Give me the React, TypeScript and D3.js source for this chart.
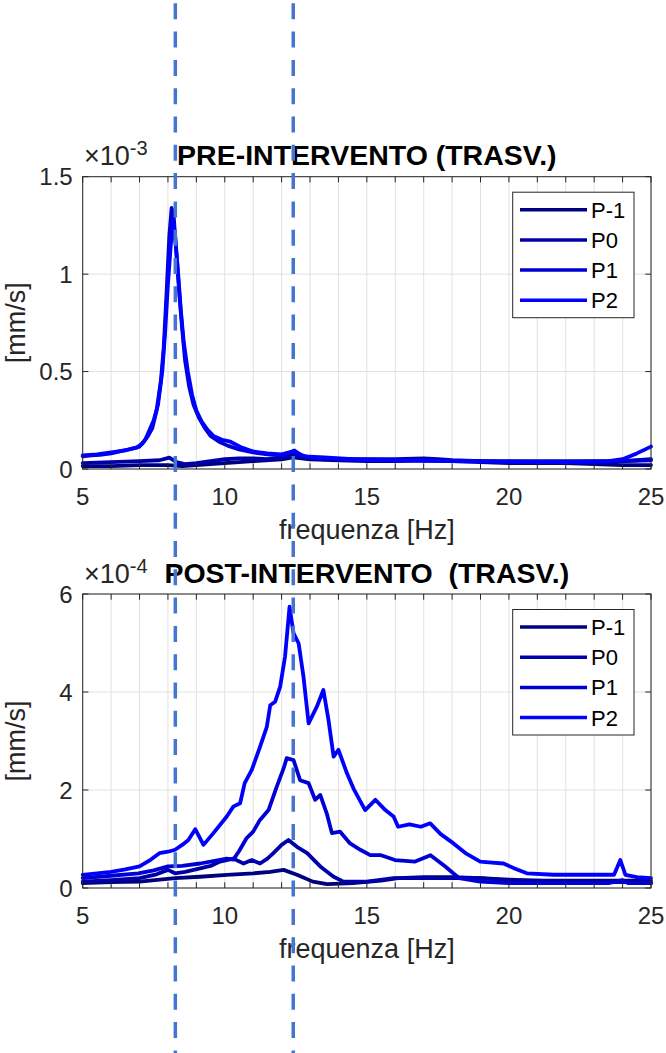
import React from "react";
import * as d3 from "d3";

// ---------- DATA ----------
const seriesNames = ["P-1", "P0", "P1", "P2"];
const seriesColors = ["#000080", "#0000AA", "#0000D5", "#0000FF"];
const xTicks = d3.range(5, 26, 1);
const xTickLabels = [5, 10, 15, 20, 25];
const preYTicks = [0, 0.5, 1, 1.5];
const postYTicks = [0, 2, 4, 6];
const markerFreqs = [8.26, 12.41];

// PRE-INTERVENTO (x10^-3 mm/s)
const preP_1: [number, number][] = [[5,0.015],[6,0.015],[7,0.02],[8,0.02],[8.5,0.015],[9,0.02],[10,0.03],[11,0.04],[12,0.05],[12.4,0.06],[13,0.05],[14,0.045],[15,0.04],[16,0.04],[17,0.045],[18,0.04],[19,0.035],[20,0.03],[21,0.03],[22,0.03],[23,0.025],[24,0.02],[25,0.02]];
const preP0: [number, number][] = [[5,0.03],[6,0.035],[7,0.04],[7.7,0.045],[8.05,0.058],[8.3,0.035],[8.6,0.025],[9,0.03],[9.5,0.04],[10,0.05],[10.5,0.055],[11,0.055],[11.5,0.05],[12,0.06],[12.4,0.075],[12.8,0.06],[13.5,0.05],[14,0.05],[15,0.05],[16,0.05],[17,0.055],[17.5,0.05],[18,0.045],[19,0.04],[20,0.04],[21,0.04],[22,0.04],[23,0.04],[24,0.04],[24.5,0.045],[25,0.05]];
const preP1: [number, number][] = [[5,0.065],[5.3,0.07],[5.6,0.072],[6,0.08],[6.3,0.09],[6.6,0.1],[6.9,0.11],[7.1,0.13],[7.3,0.17],[7.45,0.21],[7.6,0.3],[7.75,0.45],[7.85,0.62],[7.95,0.9],[8.05,1.2],[8.13,1.34],[8.2,1.3],[8.3,1.1],[8.4,0.9],[8.5,0.72],[8.6,0.56],[8.75,0.42],[8.9,0.33],[9.1,0.26],[9.3,0.21],[9.5,0.17],[9.8,0.14],[10.1,0.12],[10.5,0.1],[11,0.085],[11.5,0.075],[12,0.07],[12.3,0.085],[12.45,0.095],[12.7,0.07],[13,0.06],[13.5,0.055],[14,0.05],[15,0.045],[16,0.045],[17,0.045],[18,0.04],[19,0.04],[20,0.035],[21,0.035],[22,0.035],[23,0.035],[24,0.04],[25,0.045]];
const preP2: [number, number][] = [[5,0.07],[5.5,0.075],[6,0.085],[6.5,0.095],[7,0.115],[7.2,0.15],[7.35,0.2],[7.5,0.25],[7.65,0.33],[7.8,0.5],[7.9,0.7],[8.0,0.95],[8.1,1.15],[8.18,1.27],[8.25,1.2],[8.35,1.02],[8.45,0.82],[8.55,0.66],[8.7,0.5],[8.85,0.38],[9.0,0.3],[9.2,0.24],[9.4,0.2],[9.6,0.17],[9.9,0.15],[10.2,0.14],[10.6,0.11],[11,0.09],[11.5,0.08],[12,0.075],[12.4,0.09],[12.8,0.065],[13.5,0.06],[14.5,0.05],[16,0.045],[18,0.04],[20,0.038],[22,0.035],[23.5,0.04],[24,0.05],[24.5,0.08],[25,0.115]];

// POST-INTERVENTO (x10^-4 mm/s)
const postP_1: [number, number][] = [[5,0.1],[6,0.12],[7,0.13],[8.25,0.2],[9.13,0.23],[10.07,0.27],[11,0.3],[11.6,0.33],[12.07,0.37],[12.54,0.27],[13.1,0.13],[13.6,0.08],[14.5,0.1],[15.5,0.15],[16.1,0.2],[17,0.22],[18,0.22],[19,0.2],[20,0.17],[21,0.15],[22,0.15],[23,0.15],[24,0.15],[25,0.15]];
const postP0: [number, number][] = [[5,0.13],[6,0.16],[7,0.2],[7.6,0.28],[8.0,0.37],[8.25,0.3],[8.6,0.33],[9.13,0.4],[9.5,0.45],[9.83,0.54],[10.3,0.6],[10.66,0.5],[10.95,0.57],[11.24,0.5],[11.5,0.6],[11.71,0.71],[12.0,0.88],[12.24,0.98],[12.54,0.84],[12.9,0.71],[13.36,0.44],[13.83,0.23],[14.18,0.13],[15,0.13],[15.94,0.2],[17,0.2],[18,0.2],[19,0.2],[20,0.15],[21,0.15],[22,0.13],[23,0.12],[24,0.12],[25,0.1]];
const postP1: [number, number][] = [[5,0.2],[6,0.25],[6.96,0.3],[7.5,0.36],[8,0.44],[8.5,0.45],[9.13,0.5],[9.6,0.55],[10.07,0.6],[10.3,0.58],[10.5,0.75],[10.77,1.02],[11.0,1.15],[11.24,1.39],[11.54,1.59],[11.83,2.07],[12.07,2.44],[12.18,2.65],[12.42,2.61],[12.65,2.2],[12.95,2.14],[13.18,1.8],[13.36,1.9],[13.59,1.52],[13.77,1.12],[14.06,1.15],[14.41,0.91],[14.77,0.78],[15.12,0.67],[15.5,0.67],[15.99,0.57],[16.7,0.54],[17.24,0.67],[17.76,0.44],[18.25,0.2],[18.99,0.13],[20,0.1],[22,0.1],[23.5,0.1],[24,0.16],[24.2,0.1],[25,0.1]];
const postP2: [number, number][] = [[5,0.27],[5.5,0.3],[6,0.33],[6.5,0.38],[7,0.44],[7.4,0.58],[7.7,0.71],[8,0.74],[8.25,0.78],[8.5,0.88],[8.72,0.98],[8.96,1.2],[9.1,1.05],[9.25,0.88],[9.6,1.12],[10.07,1.46],[10.3,1.66],[10.54,1.73],[10.7,2.14],[10.95,2.41],[11.24,2.88],[11.48,3.29],[11.6,3.73],[11.77,3.8],[11.95,4.11],[12.12,4.72],[12.28,5.74],[12.42,5.2],[12.6,4.99],[12.77,4.31],[12.95,3.36],[13.24,3.7],[13.47,4.04],[13.65,3.43],[13.83,2.68],[14.0,2.82],[14.3,2.34],[14.53,2.03],[14.94,1.59],[15.3,1.8],[15.65,1.59],[15.94,1.46],[16.1,1.25],[16.5,1.3],[16.9,1.25],[17.23,1.32],[17.6,1.1],[18.05,0.91],[18.5,0.7],[18.99,0.54],[19.4,0.52],[19.81,0.5],[20.2,0.4],[20.63,0.3],[21.57,0.27],[22.5,0.27],[23.33,0.27],[23.7,0.27],[23.92,0.57],[24.1,0.27],[24.5,0.22],[25,0.2]];

const preSeries = [preP_1, preP0, preP1, preP2];
const postSeries = [postP_1, postP0, postP1, postP2];

// ---------- LAYOUT ----------
const W = 666, H = 1053;
const FONT = "'Liberation Sans', Arial, Helvetica, sans-serif";
const AX = "#262626";
const xScale = d3.scaleLinear().domain([5, 25]).range([82.7, 651]);

type PanelProps = {
  top: number; bottom: number; yMax: number; yTicks: number[];
  series: [number, number][][]; title: string; exp: string;
};

function Panel({ top, bottom, yMax, yTicks, series, title, exp }: PanelProps) {
  const y = d3.scaleLinear().domain([0, yMax]).range([bottom, top]);
  const line = d3.line<[number, number]>().x(d => xScale(d[0])).y(d => y(d[1]));
  const [x0, x1] = xScale.range();
  const tl = 5.7;
  const legL = 512.7, legT = top + 15.5, legW = 121.3, legH = 125.5;
  return (
    <g>
      {xTicks.map(t => (
        <line key={"gx" + t} x1={xScale(t)} x2={xScale(t)} y1={top} y2={bottom} stroke="#e1e1e1" strokeWidth={1} />
      ))}
      {yTicks.map(t => (
        <line key={"gy" + t} x1={x0} x2={x1} y1={y(t)} y2={y(t)} stroke="#e1e1e1" strokeWidth={1} />
      ))}
      {series.map((s, i) => (
        <path key={"s" + i} d={line(s) || ""} fill="none" stroke={seriesColors[i]} strokeWidth={3.8} strokeLinejoin="round" strokeLinecap="round" />
      ))}
      {xTicks.map(t => (
        <g key={"tx" + t}>
          <line x1={xScale(t)} x2={xScale(t)} y1={bottom} y2={bottom - tl} stroke={AX} strokeWidth={1} />
          <line x1={xScale(t)} x2={xScale(t)} y1={top} y2={top + tl} stroke={AX} strokeWidth={1} />
        </g>
      ))}
      {yTicks.map(t => (
        <g key={"ty" + t}>
          <line x1={x0} x2={x0 + tl} y1={y(t)} y2={y(t)} stroke={AX} strokeWidth={1} />
          <line x1={x1} x2={x1 - tl} y1={y(t)} y2={y(t)} stroke={AX} strokeWidth={1} />
        </g>
      ))}
      <rect x={x0} y={top} width={x1 - x0} height={bottom - top} fill="none" stroke={AX} strokeWidth={1} />
      {xTickLabels.map(t => (
        <text key={"lx" + t} x={xScale(t)} y={bottom + 36} textAnchor="middle" fontSize={24} fill={AX} fontFamily={FONT}>{t}</text>
      ))}
      {yTicks.map(t => (
        <text key={"ly" + t} x={x0 - 10} y={y(t) + 8.5} textAnchor="end" fontSize={24} fill={AX} fontFamily={FONT}>{t}</text>
      ))}
      <text x={84} y={top - 11.5} fontSize={27} fill={AX} fontFamily={FONT}>
        ×10<tspan fontSize={20} dy={-10}>{exp}</tspan>
      </text>
      <text x={(x0 + x1) / 2} y={top - 11.5} textAnchor="middle" fontSize={28.5} fontWeight="bold" fill="#000" fontFamily={FONT} style={{ whiteSpace: "pre" }}>{title}</text>
      <text x={(x0 + x1) / 2} y={bottom + 70} textAnchor="middle" fontSize={27} fill={AX} fontFamily={FONT}>frequenza [Hz]</text>
      <text transform={`translate(25,${(top + bottom) / 2}) rotate(-90)`} textAnchor="middle" fontSize={27} fill={AX} fontFamily={FONT}>[mm/s]</text>
      <rect x={legL} y={legT} width={legW} height={legH} fill="#fff" stroke={AX} strokeWidth={1} />
      {seriesNames.map((n, i) => {
        const ry = legT + 17.5 + i * 30.2;
        return (
          <g key={"lg" + n}>
            <line x1={520} x2={587} y1={ry} y2={ry} stroke={seriesColors[i]} strokeWidth={3.5} />
            <text x={591} y={ry + 8} fontSize={22} fill="#000" fontFamily={FONT}>{n}</text>
          </g>
        );
      })}
    </g>
  );
}

export default function App() {
  return (
    <svg width={W} height={H} style={{ position: "absolute", left: 0, top: 0, background: "#fff" }}>
      <rect x={0} y={0} width={W} height={H} fill="#fff" />
      <Panel top={176.7} bottom={469} yMax={1.5} yTicks={preYTicks} series={preSeries} title="PRE-INTERVENTO (TRASV.)" exp="-3" />
      <Panel top={594} bottom={888} yMax={6} yTicks={postYTicks} series={postSeries} title="POST-INTERVENTO  (TRASV.)" exp="-4" />
      {markerFreqs.map(f => (
        <line key={"m" + f} x1={xScale(f)} x2={xScale(f)} y1={3.3} y2={H} stroke="#4575D0" strokeWidth={3.5} strokeDasharray="16 12.3" />
      ))}
    </svg>
  );
}
